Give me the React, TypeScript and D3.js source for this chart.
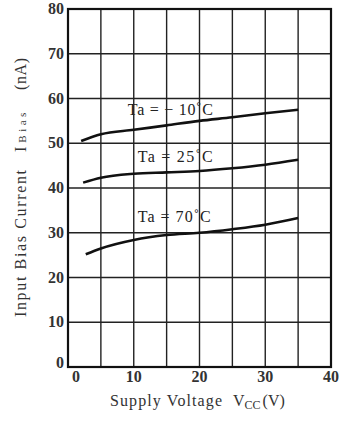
import React from "react";
import * as d3 from "d3";

// supply voltage (V) sampled along each curve
const vccM10 = [2, 5, 10, 15, 20, 25, 30, 35];
const ibM10 = [50.5, 52, 53, 54, 55, 55.8, 56.7, 57.5];
const vcc25 = [2.3, 5, 10, 15, 20, 25, 30, 35];
const ib25 = [41.2, 42.3, 43.2, 43.5, 43.8, 44.4, 45.2, 46.3];
const vcc70 = [2.7, 5, 10, 15, 20, 25, 30, 35];
const ib70 = [25.2, 26.5, 28.4, 29.5, 30, 30.8, 31.8, 33.3];

const xTicks = [0, 10, 20, 30, 40];
const xGrid = [5, 10, 15, 20, 25, 30, 35];
const yTicks = [0, 10, 20, 30, 40, 50, 60, 70, 80];

const labels = [
  { text: "Ta = \u2212 10\u02daC", v: 9.1, i: 56.4, len: 85 },
  { text: "Ta = 25\u02daC", v: 10.6, i: 45.9, len: 75 },
  { text: "Ta = 70\u02daC", v: 10.6, i: 32.4, len: 73 },
];

const W = 343, H = 423;
const left = 68, right = 331, top = 9, bottom = 367;
const font = "'Liberation Serif', 'DejaVu Serif', serif";

export default function App() {
  const x = d3.scaleLinear().domain([0, 40]).range([left, right]);
  const y = d3.scaleLinear().domain([0, 80]).range([bottom, top]);
  const line = d3
    .line<[number, number]>()
    .x((d) => x(d[0]))
    .y((d) => y(d[1]))
    .curve(d3.curveMonotoneX);

  const series = [
    d3.zip(vccM10, ibM10),
    d3.zip(vcc25, ib25),
    d3.zip(vcc70, ib70),
  ] as [number, number][][];

  return (
    <svg
      width={W}
      height={H}
      style={{ position: "absolute", left: 0, top: 0, background: "#fff" }}
      fontFamily={font}
    >
      {/* grid */}
      {xGrid.map((v) => (
        <line key={"gx" + v} x1={x(v)} x2={x(v)} y1={top} y2={bottom} stroke="#222" strokeWidth={1.4} />
      ))}
      {yTicks.slice(1, -1).map((v) => (
        <line key={"gy" + v} x1={left} x2={right} y1={y(v)} y2={y(v)} stroke="#222" strokeWidth={1.4} />
      ))}
      <rect x={left} y={top} width={right - left} height={bottom - top} fill="none" stroke="#111" strokeWidth={2.2} />

      {/* curves */}
      {series.map((s, k) => (
        <path key={k} d={line(s) || ""} fill="none" stroke="#111" strokeWidth={2.6} />
      ))}
      {labels.map((l) => (
        <text
          key={l.text}
          x={x(l.v)}
          y={y(l.i)}
          fontSize={16}
          fill="#222"
          textLength={l.len}
          lengthAdjust="spacing"
        >
          {l.text}
        </text>
      ))}

      {/* y tick labels */}
      {yTicks.map((v) => (
        <text
          key={"ty" + v}
          x={left - 4}
          y={v === 0 ? y(v) + 1 : y(v) + 5}
          textAnchor="end"
          fontSize={16}
          fontWeight="bold"
          fill="#333"
        >
          {v}
        </text>
      ))}
      {/* x tick labels */}
      {xTicks.map((v) => (
        <text
          key={"tx" + v}
          x={v === 0 ? x(v) + 8 : x(v)}
          y={382}
          textAnchor="middle"
          fontSize={16}
          fontWeight="bold"
          fill="#333"
        >
          {v}
        </text>
      ))}

      {/* axis titles */}
      <text x={110} y={406} fontSize={16} fill="#333" textLength={112} lengthAdjust="spacing">
        Supply Voltage
      </text>
      <text x={233} y={406} fontSize={16} fill="#333">
        V<tspan fontSize={12} dy={3}>CC</tspan>
        <tspan dy={-3} dx={2}>(V)</tspan>
      </text>
      <g transform="translate(26, 0) rotate(-90)">
        <text x={-317} y={0} fontSize={16} fill="#333" textLength={147} lengthAdjust="spacing">
          Input Bias Current
        </text>
        <text x={-152} y={0} fontSize={16} fill="#333">
          I<tspan fontSize={11} dx={4} textLength={30} lengthAdjust="spacing">Bias</tspan>
        </text>
        <text x={-90} y={0} fontSize={16} fill="#333" textLength={32} lengthAdjust="spacing">
          (nA)
        </text>
      </g>
    </svg>
  );
}
